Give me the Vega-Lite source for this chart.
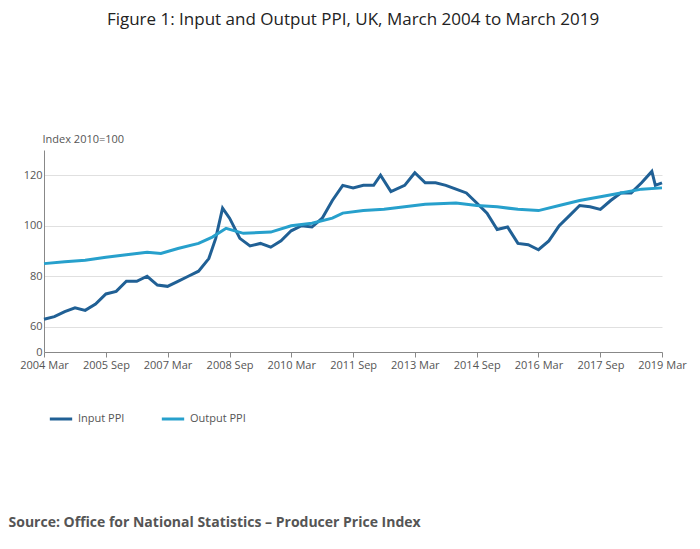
{
  "$schema": "https://vega.github.io/schema/vega-lite/v6.json",
  "width": 618,
  "height": 202,
  "autosize": "none",
  "padding": {"left": 44, "top": 150, "right": 38, "bottom": 197},
  "config": {"font": "Open Sans", "view": {"stroke": null}},
  "title": {"text": "Figure 1: Input and Output PPI, UK, March 2004 to March 2019", "fontSize": 17, "fontWeight": "normal", "color": "#222222", "offset": 104, "anchor": "middle"},
  "data": {"values": [
    {"d": "2004-03-01", "s": "Input PPI", "v": 63}, {"d": "2004-06-01", "s": "Input PPI", "v": 64}, {"d": "2004-09-01", "s": "Input PPI", "v": 66}, {"d": "2004-12-01", "s": "Input PPI", "v": 67.5},
    {"d": "2005-03-01", "s": "Input PPI", "v": 66.5}, {"d": "2005-06-01", "s": "Input PPI", "v": 69}, {"d": "2005-09-01", "s": "Input PPI", "v": 73}, {"d": "2005-12-01", "s": "Input PPI", "v": 74},
    {"d": "2006-03-01", "s": "Input PPI", "v": 78}, {"d": "2006-06-01", "s": "Input PPI", "v": 78}, {"d": "2006-09-01", "s": "Input PPI", "v": 80}, {"d": "2006-12-01", "s": "Input PPI", "v": 76.5},
    {"d": "2007-03-01", "s": "Input PPI", "v": 76}, {"d": "2007-06-01", "s": "Input PPI", "v": 78}, {"d": "2007-09-01", "s": "Input PPI", "v": 80}, {"d": "2007-12-01", "s": "Input PPI", "v": 82},
    {"d": "2008-03-01", "s": "Input PPI", "v": 87}, {"d": "2008-05-01", "s": "Input PPI", "v": 95}, {"d": "2008-07-01", "s": "Input PPI", "v": 107}, {"d": "2008-09-01", "s": "Input PPI", "v": 103}, {"d": "2008-12-01", "s": "Input PPI", "v": 95},
    {"d": "2009-03-01", "s": "Input PPI", "v": 92}, {"d": "2009-06-01", "s": "Input PPI", "v": 93}, {"d": "2009-09-01", "s": "Input PPI", "v": 91.5}, {"d": "2009-12-01", "s": "Input PPI", "v": 94},
    {"d": "2010-03-01", "s": "Input PPI", "v": 98}, {"d": "2010-06-01", "s": "Input PPI", "v": 100}, {"d": "2010-09-01", "s": "Input PPI", "v": 99.5}, {"d": "2010-12-01", "s": "Input PPI", "v": 103},
    {"d": "2011-03-01", "s": "Input PPI", "v": 110}, {"d": "2011-06-01", "s": "Input PPI", "v": 116}, {"d": "2011-09-01", "s": "Input PPI", "v": 115}, {"d": "2011-12-01", "s": "Input PPI", "v": 116},
    {"d": "2012-03-01", "s": "Input PPI", "v": 116}, {"d": "2012-05-01", "s": "Input PPI", "v": 120}, {"d": "2012-08-01", "s": "Input PPI", "v": 113.5}, {"d": "2012-12-01", "s": "Input PPI", "v": 116},
    {"d": "2013-03-01", "s": "Input PPI", "v": 121}, {"d": "2013-06-01", "s": "Input PPI", "v": 117}, {"d": "2013-09-01", "s": "Input PPI", "v": 117}, {"d": "2013-12-01", "s": "Input PPI", "v": 116},
    {"d": "2014-03-01", "s": "Input PPI", "v": 114.5}, {"d": "2014-06-01", "s": "Input PPI", "v": 113}, {"d": "2014-09-01", "s": "Input PPI", "v": 109}, {"d": "2014-12-01", "s": "Input PPI", "v": 105},
    {"d": "2015-03-01", "s": "Input PPI", "v": 98.5}, {"d": "2015-06-01", "s": "Input PPI", "v": 99.5}, {"d": "2015-09-01", "s": "Input PPI", "v": 93}, {"d": "2015-12-01", "s": "Input PPI", "v": 92.5},
    {"d": "2016-03-01", "s": "Input PPI", "v": 90.5}, {"d": "2016-06-01", "s": "Input PPI", "v": 94}, {"d": "2016-09-01", "s": "Input PPI", "v": 100}, {"d": "2016-12-01", "s": "Input PPI", "v": 104},
    {"d": "2017-03-01", "s": "Input PPI", "v": 108}, {"d": "2017-06-01", "s": "Input PPI", "v": 107.5}, {"d": "2017-09-01", "s": "Input PPI", "v": 106.5}, {"d": "2017-12-01", "s": "Input PPI", "v": 110},
    {"d": "2018-03-01", "s": "Input PPI", "v": 113}, {"d": "2018-06-01", "s": "Input PPI", "v": 113}, {"d": "2018-09-01", "s": "Input PPI", "v": 117}, {"d": "2018-12-01", "s": "Input PPI", "v": 121.5},
    {"d": "2019-01-01", "s": "Input PPI", "v": 116}, {"d": "2019-03-01", "s": "Input PPI", "v": 117},
    {"d": "2004-03-01", "s": "Output PPI", "v": 85}, {"d": "2004-09-01", "s": "Output PPI", "v": 85.7}, {"d": "2005-03-01", "s": "Output PPI", "v": 86.3}, {"d": "2005-09-01", "s": "Output PPI", "v": 87.5},
    {"d": "2006-03-01", "s": "Output PPI", "v": 88.5}, {"d": "2006-09-01", "s": "Output PPI", "v": 89.5}, {"d": "2007-01-01", "s": "Output PPI", "v": 89}, {"d": "2007-06-01", "s": "Output PPI", "v": 91},
    {"d": "2007-12-01", "s": "Output PPI", "v": 93}, {"d": "2008-04-01", "s": "Output PPI", "v": 95.5}, {"d": "2008-08-01", "s": "Output PPI", "v": 99}, {"d": "2009-01-01", "s": "Output PPI", "v": 97},
    {"d": "2009-09-01", "s": "Output PPI", "v": 97.5}, {"d": "2010-03-01", "s": "Output PPI", "v": 100}, {"d": "2010-09-01", "s": "Output PPI", "v": 101}, {"d": "2011-03-01", "s": "Output PPI", "v": 103},
    {"d": "2011-06-01", "s": "Output PPI", "v": 105}, {"d": "2011-12-01", "s": "Output PPI", "v": 106}, {"d": "2012-06-01", "s": "Output PPI", "v": 106.5}, {"d": "2012-12-01", "s": "Output PPI", "v": 107.5},
    {"d": "2013-06-01", "s": "Output PPI", "v": 108.5}, {"d": "2014-03-01", "s": "Output PPI", "v": 109}, {"d": "2014-09-01", "s": "Output PPI", "v": 108}, {"d": "2015-03-01", "s": "Output PPI", "v": 107.5},
    {"d": "2015-09-01", "s": "Output PPI", "v": 106.5}, {"d": "2016-03-01", "s": "Output PPI", "v": 106}, {"d": "2016-09-01", "s": "Output PPI", "v": 108}, {"d": "2017-03-01", "s": "Output PPI", "v": 110},
    {"d": "2017-09-01", "s": "Output PPI", "v": 111.5}, {"d": "2018-03-01", "s": "Output PPI", "v": 113}, {"d": "2018-09-01", "s": "Output PPI", "v": 114.5}, {"d": "2019-03-01", "s": "Output PPI", "v": 115}
  ]},
  "mark": {"type": "line", "strokeWidth": 3},
  "encoding": {
    "x": {
      "field": "d", "type": "temporal",
      "scale": {"domain": [{"year": 2004, "month": 3}, {"year": 2019, "month": 3}]},
      "axis": {
        "values": [{"year": 2004, "month": 3}, {"year": 2005, "month": 9}, {"year": 2007, "month": 3}, {"year": 2008, "month": 9}, {"year": 2010, "month": 3}, {"year": 2011, "month": 9}, {"year": 2013, "month": 3}, {"year": 2014, "month": 9}, {"year": 2016, "month": 3}, {"year": 2017, "month": 9}, {"year": 2019, "month": 3}],
        "format": "%Y %b", "grid": false, "labelOverlap": false, "labelFlush": false, "labelColor": "#555555", "labelFontSize": 11, "domainColor": "#888888", "tickColor": "#888888",
        "title": "Source: Office for National Statistics – Producer Price Index",
        "titleFontSize": 14, "titleFontWeight": "bold", "titleColor": "#555555", "titleAnchor": "start", "titleAlign": "left", "titleX": -36, "titleY": 163
      }
    },
    "y": {
      "field": "v", "type": "quantitative",
      "scale": {"domain": [50, 130], "nice": false, "zero": false},
      "axis": {
        "values": [50, 60, 80, 100, 120],
        "labelExpr": "datum.value == 50 ? '0' : datum.label",
        "gridColor": "#e0e0e0", "domainColor": "#888888", "ticks": false, "labelColor": "#555555", "labelFontSize": 11,
        "title": "Index 2010=100", "titleAngle": 0, "titleAlign": "left", "titleX": -2, "titleY": -6, "titleFontWeight": "normal", "titleFontSize": 11, "titleColor": "#555555"
      }
    },
    "color": {
      "field": "s", "type": "nominal",
      "scale": {"domain": ["Input PPI", "Output PPI"], "range": ["#206095", "#27a0cc"]},
      "legend": {"title": null, "orient": "none", "direction": "horizontal", "legendX": 4, "legendY": 256, "symbolType": "stroke", "symbolStrokeWidth": 3, "symbolSize": 500, "labelFontSize": 11, "labelColor": "#555555", "columnPadding": 30}
    }
  }
}
